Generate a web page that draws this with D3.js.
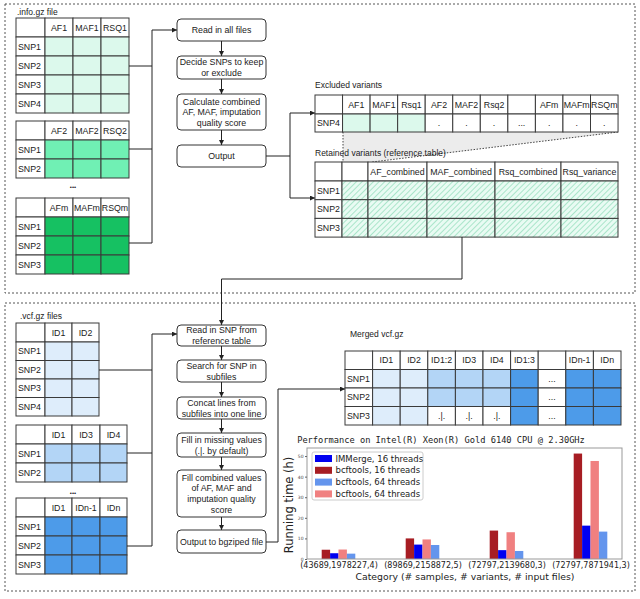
<!DOCTYPE html>
<html>
<head>
<meta charset="utf-8">
<script src="https://cdn.jsdelivr.net/npm/d3@7"></script>
<style>
  body { margin: 0; background: #fff; }
  svg { display: block; }
</style>
</head>
<body>
<svg width="640" height="599"></svg>
<script>
// ---- chart data ----
const chartTitle = "Performance on Intel(R) Xeon(R) Gold 6140 CPU @ 2.30GHz";
const categories = ["(43689,1978227,4)", "(89869,2158872,5)", "(72797,2139680,3)", "(72797,7871941,3)"];
const bcftools16 = [4.5, 10.0, 13.8, 51.2];
const immerge16 = [2.8, 7.0, 4.3, 16.2];
const bcftools64 = [4.6, 9.5, 13.0, 47.6];
const immerge64 = [2.6, 6.8, 3.9, 13.3];
const legendLabels = ["IMMerge, 16 threads", "bcftools, 16 threads", "bcftools, 64 threads", "bcftools, 64 threads"];
const yTicks = [0, 10, 20, 30, 40, 50];

// ---- diagram text ----
const infoHeaders = [["", "AF1", "MAF1", "RSQ1"], ["", "AF2", "MAF2", "RSQ2"], ["", "AFm", "MAFm", "RSQm"]];
const infoRows = [["SNP1", "SNP2", "SNP3", "SNP4"], ["SNP1", "SNP2"], ["SNP1", "SNP2", "SNP3"]];
const vcfHeaders = [["", "ID1", "ID2"], ["", "ID1", "ID3", "ID4"], ["", "ID1", "IDn-1", "IDn"]];
const vcfRows = [["SNP1", "SNP2", "SNP3", "SNP4"], ["SNP1", "SNP2"], ["SNP1", "SNP2", "SNP3"]];
const excludedHeader = ["", "AF1", "MAF1", "Rsq1", "AF2", "MAF2", "Rsq2", "", "AFm", "MAFm", "RSQm"];
const excludedCells = ["", "", "", ".", ".", ".", "...", ".", ".", "."];
const retainedHeader = ["", "", "AF_combined", "MAF_combined", "Rsq_combined", "Rsq_variance"];
const retainedRows = ["SNP1", "SNP2", "SNP3"];
const mergedHeader = ["", "ID1", "ID2", "ID1:2", "ID3", "ID4", "ID1:3", "", "IDn-1", "IDn"];
const mergedRows = ["SNP1", "SNP2", "SNP3"];
const topSteps = [["Read in all files"], ["Decide SNPs to keep", "or exclude"],
  ["Calculate combined", "AF, MAF, imputation", "quality score"], ["Output"]];
const bottomSteps = [["Read in SNP from", "reference table"], ["Search for SNP in", "subfiles"],
  ["Concat lines from", "subfiles into one line"], ["Fill in missing values", "(.|. by default)"],
  ["Fill combined values", "of AF, MAF and", "imputation quality", "score"], ["Output to bgziped file"]];

const svg = d3.select("svg");
const defs = svg.append("defs");
const SANS = "'Liberation Sans', Arial, Helvetica, sans-serif";
const INK = "#222";
const GRID = "#3a3a3a";

defs.append("marker")
  .attr("id", "arrow")
  .attr("viewBox", "0 0 10 10")
  .attr("refX", 10).attr("refY", 5)
  .attr("markerWidth", 5).attr("markerHeight", 5)
  .attr("orient", "auto")
  .append("path").attr("d", "M0,0L10,5L0,10z").attr("fill", INK);

const hatch = defs.append("pattern")
  .attr("id", "hatch")
  .attr("patternUnits", "userSpaceOnUse")
  .attr("width", 4).attr("height", 4)
  .attr("patternTransform", "rotate(45)");
hatch.append("rect").attr("width", 4).attr("height", 4).attr("fill", "#e9fbf3");
hatch.append("line").attr("x1", 0).attr("y1", 0).attr("x2", 0).attr("y2", 4)
  .attr("stroke", "#7fd6ae").attr("stroke-width", 1.2);

// dotted frames
svg.append("rect").attr("x", 5).attr("y", 4).attr("width", 630).attr("height", 289)
  .attr("fill", "none").attr("stroke", "#555").attr("stroke-dasharray", "2,2");
svg.append("rect").attr("x", 5).attr("y", 303).attr("width", 630).attr("height", 288)
  .attr("fill", "none").attr("stroke", "#555").attr("stroke-dasharray", "2,2");

function label(x, y, txt, size, anchor) {
  svg.append("text").attr("x", x).attr("y", y)
    .attr("font-family", SANS).attr("font-size", size || 8.5)
    .attr("fill", INK).attr("text-anchor", anchor || "start")
    .text(txt);
}

// generic table: header row + label column; fill(r, c) and text(r, c) for data cells
function drawTable(x, y, widths, headH, rowH, header, rows, fill, cellText) {
  const g = svg.append("g");
  const xs = [x];
  widths.forEach(w => xs.push(xs[xs.length - 1] + w));
  const allRows = [header].concat(rows.map((r, i) => widths.map((_, c) => c === 0 ? r : (cellText ? cellText(i, c) : ""))));
  allRows.forEach((row, r) => {
    const ry = r === 0 ? y : y + headH + (r - 1) * rowH;
    const h = r === 0 ? headH : rowH;
    row.forEach((t, c) => {
      const f = (r > 0 && c > 0 && fill) ? fill(r - 1, c) : "#fff";
      g.append("rect").attr("x", xs[c]).attr("y", ry).attr("width", widths[c]).attr("height", h)
        .attr("fill", f).attr("stroke", GRID).attr("stroke-width", 1);
      if (t) {
        const left = c === 0 && r > 0;
        g.append("text")
          .attr("x", left ? xs[c] + 2 : xs[c] + widths[c] / 2)
          .attr("y", ry + h / 2 + 3.2)
          .attr("text-anchor", left ? "start" : "middle")
          .attr("font-family", SANS).attr("font-size", 8.8).attr("fill", INK)
          .text(t);
      }
    });
  });
}

function line(points, arrow) {
  svg.append("path").attr("d", d3.line()(points))
    .attr("fill", "none").attr("stroke", INK).attr("stroke-width", 1)
    .attr("marker-end", arrow ? "url(#arrow)" : null);
}

function step(x, y0, y1, lines) {
  svg.append("rect").attr("x", x).attr("y", y0).attr("width", 89).attr("height", y1 - y0)
    .attr("rx", 4).attr("fill", "#fff").attr("stroke", "#333").attr("stroke-width", 1);
  const lh = 10.6;
  const top = (y0 + y1) / 2 - (lines.length - 1) * lh / 2 + 3.2;
  const t = svg.append("text").attr("font-family", SANS).attr("font-size", 8.8)
    .attr("fill", INK).attr("text-anchor", "middle");
  lines.forEach((s, i) => t.append("tspan").attr("x", x + 44.5).attr("y", top + i * lh).text(s));
}

// ---------- top section ----------
label(17, 15, ".info.gz file", 8.5);
const infoFills = ["#dcf9ec", "#70f0b4", "#16c162"];
const infoY = [18, 121, 198];
infoHeaders.forEach((h, i) => {
  drawTable(16, infoY[i], [29, 28, 28, 28], 19, 19, h, infoRows[i], () => infoFills[i]);
});
label(73, 189, "•••", 6, "middle");

line([[129, 66], [152, 66]]);
line([[129, 149], [152, 149]]);
line([[129, 243], [152, 243], [152, 30]]);
line([[152, 30], [177, 30]], true);

const topBoxes = [[19, 41], [56, 79], [94, 130], [145, 167]];
topSteps.forEach((s, i) => step(177, topBoxes[i][0], topBoxes[i][1], s));
for (let i = 0; i < 3; i++) line([[221.5, topBoxes[i][1]], [221.5, topBoxes[i + 1][0]]], true);

line([[266, 156], [290, 156]]);
line([[290, 113], [290, 198]]);
line([[290, 113], [315, 113]], true);
line([[290, 198], [315, 198]], true);

// grey zoom wedge under the excluded row
svg.append("path").attr("d", "M343,132L618,132L372,162L343,162Z").attr("fill", "#ececec");
svg.append("path").attr("d", "M343,132L343,162").attr("stroke", "#444").attr("stroke-dasharray", "1.5,1.5").attr("fill", "none");
svg.append("path").attr("d", "M618,132L372,162").attr("stroke", "#444").attr("stroke-dasharray", "1.5,1.5").attr("fill", "none");

label(315, 88, "Excluded variants", 8.5);
drawTable(315, 95, d3.range(11).map(() => 27.55), 19, 18, excludedHeader, ["SNP4"],
  (r, c) => c <= 3 ? "#dcf9ec" : "#fff",
  (r, c) => excludedCells[c - 1]);

label(315, 156, "Retained variants (reference table)", 8.5);
drawTable(315, 162, [27, 26, 59, 68, 66, 57], 19, 18.7, retainedHeader, retainedRows,
  () => "url(#hatch)");

line([[462, 237], [462, 279], [221.5, 279], [221.5, 325]], true);

// ---------- bottom section ----------
label(20, 319, ".vcf.gz files", 8.5);
const vcfFills = ["#deedfb", "#b3d5f6", "#4d9be9"];
const vcfY = [323, 425, 498];
const vcfW = [[29, 27, 27], [29, 27, 28, 27], [29, 27, 28, 27]];
vcfHeaders.forEach((h, i) => {
  drawTable(16, vcfY[i], vcfW[i], 19, i === 0 ? 18.5 : 19, h, vcfRows[i], () => vcfFills[i]);
});
label(73, 495, "•••", 6, "middle");

line([[99, 370], [152, 370]]);
line([[127, 453], [152, 453]]);
line([[127, 546], [152, 546], [152, 334]]);
line([[152, 334], [177, 334]], true);

const bottomBoxes = [[325, 346], [360, 382], [397, 419], [433, 457], [470, 517], [530, 553]];
bottomSteps.forEach((s, i) => step(177, bottomBoxes[i][0], bottomBoxes[i][1], s));
for (let i = 0; i < 5; i++) line([[221.5, bottomBoxes[i][1]], [221.5, bottomBoxes[i + 1][0]]], true);

line([[266, 542], [278, 542], [278, 389], [345, 389]], true);

label(350, 337, "Merged vcf.gz", 8.5);
drawTable(345, 351, d3.range(10).map(() => 27.6), 18.5, 18.5, mergedHeader, mergedRows,
  (r, c) => {
    if (c <= 2) return vcfFills[0];
    if (c <= 5) return r < 2 ? vcfFills[1] : "#fff";
    if (c === 7) return "#fff";
    return vcfFills[2];
  },
  (r, c) => c === 7 ? "..." : (c >= 3 && c <= 5 && r === 2 ? ".|." : ""));

// ---------- bar chart ----------
const plot = { x0: 307, x1: 622, y0: 448, y1: 559 };
const x = d3.scaleLinear().domain([-0.375, categories.length - 0.625]).range([plot.x0, plot.x1]);
const y = d3.scaleLinear().domain([0, 53.9]).range([plot.y1, plot.y0]);
const barW = 0.1;

const series = [
  { values: bcftools16, color: "#a71d23", offset: -0.2 },
  { values: immerge16, color: "#0000f0", offset: -0.1 },
  { values: bcftools64, color: "#f08080", offset: 0 },
  { values: immerge64, color: "#6495ed", offset: 0.1 }
];
const legendColors = ["#0000f0", "#a71d23", "#6495ed", "#f08080"];

const chart = svg.append("g").attr("font-family", "'DejaVu Sans', sans-serif");

chart.append("text").attr("x", 441).attr("y", 443)
  .attr("text-anchor", "middle").attr("font-family", "'DejaVu Sans Mono', monospace")
  .attr("font-size", 8.7).attr("fill", INK).text(chartTitle);

series.forEach(s => {
  chart.append("g").selectAll("rect").data(s.values).join("rect")
    .attr("x", (d, i) => x(i + s.offset))
    .attr("y", d => y(d))
    .attr("width", x(barW) - x(0))
    .attr("height", d => y(0) - y(d))
    .attr("fill", s.color);
});

chart.append("rect").attr("x", plot.x0).attr("y", plot.y0)
  .attr("width", plot.x1 - plot.x0).attr("height", plot.y1 - plot.y0)
  .attr("fill", "none").attr("stroke", "#999").attr("stroke-width", 1);

const yAxis = chart.append("g").attr("transform", `translate(${plot.x0},0)`)
  .call(d3.axisLeft(y).tickValues(yTicks).tickSize(2).tickPadding(1.5));
yAxis.select(".domain").remove();
yAxis.selectAll("text").attr("font-size", 4.5).attr("fill", "#444").attr("font-family", "'DejaVu Sans', sans-serif");
yAxis.selectAll("line").attr("stroke", "#666");

const xAxis = chart.append("g").attr("transform", `translate(0,${plot.y1})`)
  .call(d3.axisBottom(x).tickValues(d3.range(categories.length)).tickFormat(i => categories[i]).tickSize(0).tickPadding(3.5));
xAxis.select(".domain").remove();
xAxis.selectAll("text").attr("font-size", 8).attr("fill", INK).attr("font-family", "'DejaVu Sans', sans-serif");

chart.append("text").attr("x", 465).attr("y", 580).attr("text-anchor", "middle")
  .attr("font-size", 9.3).attr("fill", INK).text("Category (# samples, # variants, # input files)");
chart.append("text").attr("transform", "translate(293,505) rotate(-90)").attr("text-anchor", "middle")
  .attr("font-size", 11.5).attr("fill", INK).text("Running time (h)");

// legend
const leg = chart.append("g");
leg.append("rect").attr("x", 312).attr("y", 452).attr("width", 111).attr("height", 48)
  .attr("rx", 2).attr("fill", "#fff").attr("stroke", "#ccc");
legendLabels.forEach((t, i) => {
  const cy = 458.5 + i * 11.8;
  leg.append("rect").attr("x", 315).attr("y", cy - 3.5).attr("width", 17).attr("height", 7).attr("fill", legendColors[i]);
  leg.append("text").attr("x", 335.5).attr("y", cy + 3).attr("font-size", 8.5).attr("fill", INK).text(t);
});
</script>
</body>
</html>
